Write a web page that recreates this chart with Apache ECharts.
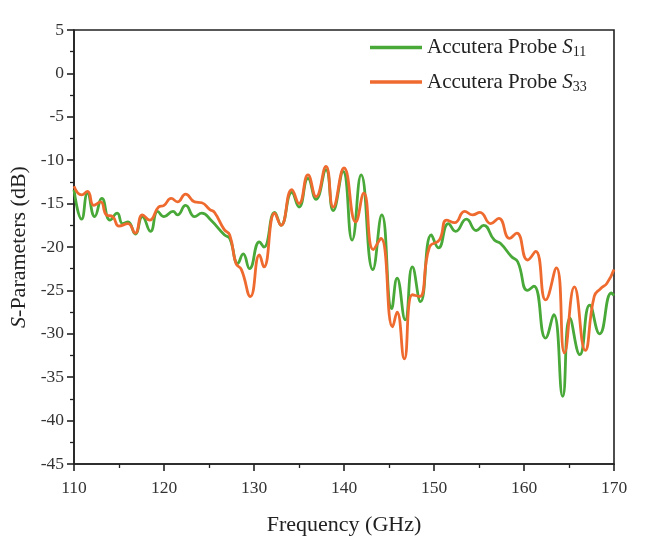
<!DOCTYPE html>
<html>
<head>
<meta charset="utf-8">
<script src="https://cdn.jsdelivr.net/npm/echarts@6/dist/echarts.min.js"></script>
<style>html,body{margin:0;padding:0;background:#fff}#c{width:650px;height:540px}</style>
</head>
<body>
<div id="c"></div>
<script>
const seriesNames = ['Accutera Probe S11', 'Accutera Probe S33'];
const s11Freq = [110,110.85,111.5,112.3,113.1,114.0,114.8,115.4,116.0,116.8,117.6,118.5,119.3,120.0,121.0,121.5,122.4,123.4,124.2,125.2,126.7,127.3,128.2,128.8,129.5,130.6,131.1,132.3,133.0,134.2,135.0,136.0,136.9,138.0,138.8,139.9,140.9,141.9,143.2,144.2,145.3,145.9,146.8,147.6,148.5,149.7,150.5,151.6,152.4,153.6,154.7,155.5,156.7,157.4,158.6,159.3,160.4,161.1,162.4,163.3,164.3,165.1,166.2,167.3,168.4,169.7,170];
const s11Val  = [-13.4,-16.8,-13.8,-16.5,-14.4,-16.9,-16.1,-17.3,-17.1,-18.5,-16.5,-18.2,-15.9,-16.5,-15.9,-16.3,-15.2,-16.5,-16.1,-16.9,-18.6,-19.0,-21.9,-20.8,-22.5,-19.4,-20.0,-16.0,-17.5,-13.7,-15.4,-12.1,-14.5,-11.1,-15.8,-11.3,-19.2,-11.7,-22.6,-16.3,-27.1,-23.6,-28.4,-22.3,-26.3,-18.6,-20.1,-17.3,-18.2,-16.8,-18.1,-17.5,-19.2,-19.6,-21.1,-21.7,-25.0,-24.5,-30.5,-27.8,-37.2,-28.2,-32.4,-26.7,-30.0,-25.3,-25.6];
const s33Freq = [110,110.85,111.5,112.2,112.96,113.6,114.3,115.0,116.0,116.8,117.6,118.4,119.4,120.0,120.8,121.5,122.4,123.4,124.2,125.1,125.6,126.7,127.3,128.0,128.6,129.6,130.6,131.1,132.3,133.0,134.2,135.0,136.0,136.9,138.0,138.8,140.0,141.3,142.2,143.25,144.1,145.4,145.9,146.7,147.6,148.4,149.5,150.6,151.4,152.3,153.4,154.3,155.1,156.3,157.2,158.4,159.2,160.4,161.3,162.4,163.6,164.5,165.6,166.8,167.8,168.5,169.2,170];
const s33Val  = [-13.0,-14.0,-13.6,-15.2,-14.8,-16.3,-16.5,-17.6,-17.3,-18.4,-16.3,-16.9,-15.4,-15.2,-14.4,-14.8,-13.9,-14.8,-14.9,-15.7,-16.0,-18.0,-18.6,-21.9,-22.6,-25.7,-20.9,-22.3,-16.1,-17.5,-13.4,-15.0,-11.7,-14.2,-10.7,-15.4,-10.9,-17.1,-13.8,-20.3,-19.0,-29.2,-27.5,-32.9,-25.5,-25.7,-20.0,-19.2,-16.9,-17.2,-15.9,-16.3,-16.0,-17.3,-16.7,-19.0,-18.4,-21.5,-20.5,-26.1,-22.4,-32.2,-24.6,-31.9,-25.7,-24.8,-24.2,-22.6];

const pair = (xs, ys) => xs.map((x, i) => [x, ys[i]]);
const FONT = '"Liberation Serif", "DejaVu Serif", serif';
const chart = echarts.init(document.getElementById('c'));
chart.setOption({
  animation: false,
  backgroundColor: '#fff',
  grid: { left: 74, right: 36, top: 30, bottom: 76, containLabel: false, outerBoundsMode: 'none',
    show: true, borderColor: '#222', borderWidth: 1.6, backgroundColor: 'transparent' },
  legend: {
    orient: 'vertical', left: 365, top: 32, itemGap: 12,
    itemWidth: 52, itemHeight: 3.5, icon: 'rect',
    data: seriesNames,
    formatter: n => n === seriesNames[0] ? '{a|Accutera Probe }{s|S}{b|11}' : '{a|Accutera Probe }{s|S}{b|33}',
    textStyle: {
      fontFamily: FONT, color: '#222',
      rich: {
        a: { fontFamily: FONT, fontSize: 21, color: '#222' },
        s: { fontFamily: FONT, fontSize: 21, fontStyle: 'italic', color: '#222' },
        b: { fontFamily: FONT, fontSize: 14, color: '#222', verticalAlign: 'bottom', padding: [10, 0, 0, 0] }
      }
    }
  },
  xAxis: {
    type: 'value', min: 110, max: 170, interval: 10,
    name: 'Frequency (GHz)', nameLocation: 'middle', nameGap: 50,
    nameTextStyle: { fontFamily: FONT, fontSize: 22, color: '#222' },
    axisLine: { onZero: false, lineStyle: { color: '#222', width: 1.6 } },
    axisTick: { inside: false, length: 7, lineStyle: { color: '#222', width: 1.6 } },
    minorTick: { show: true, splitNumber: 2, length: 4, lineStyle: { color: '#222', width: 1.3 } },
    axisLabel: { fontFamily: FONT, fontSize: 17.5, color: '#333', margin: 15 },
    splitLine: { show: false }
  },
  yAxis: {
    type: 'value', min: -45, max: 5, interval: 5,
    name: '{i|S}-Parameters (dB)', nameLocation: 'middle', nameGap: 42, nameRotate: 90,
    nameTextStyle: { fontFamily: FONT, fontSize: 22, color: '#222',
      rich: { i: { fontFamily: FONT, fontSize: 22, fontStyle: 'italic', color: '#222' } } },
    axisLine: { onZero: false, lineStyle: { color: '#222', width: 1.6 } },
    axisTick: { inside: false, length: 7, lineStyle: { color: '#222', width: 1.6 } },
    minorTick: { show: true, splitNumber: 2, length: 4, lineStyle: { color: '#222', width: 1.3 } },
    axisLabel: { fontFamily: FONT, fontSize: 17.5, color: '#333', margin: 10 },
    splitLine: { show: false }
  },
  series: [
    { name: seriesNames[0], type: 'line', data: pair(s11Freq, s11Val), smooth: 0.5, showSymbol: false,
      lineStyle: { color: '#48a838', width: 2.8 }, itemStyle: { color: '#48a838' } },
    { name: seriesNames[1], type: 'line', data: pair(s33Freq, s33Val), smooth: 0.5, showSymbol: false,
      lineStyle: { color: '#ef6a2e', width: 2.8 }, itemStyle: { color: '#ef6a2e' } }
  ]
});
</script>
</body>
</html>
